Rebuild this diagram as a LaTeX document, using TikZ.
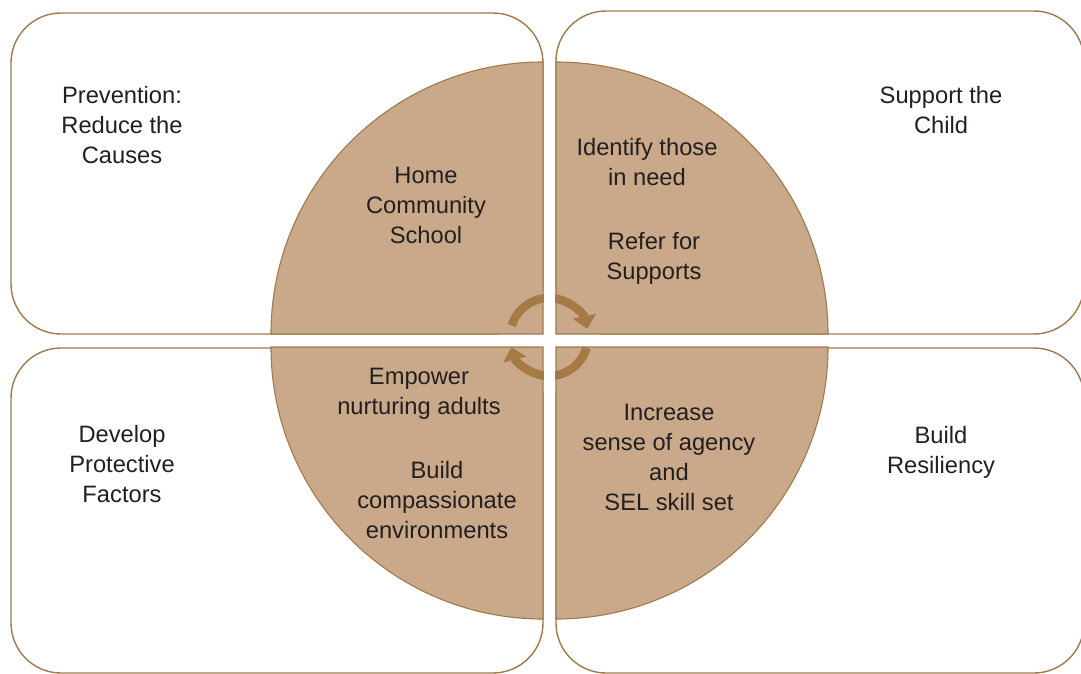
\documentclass[tikz,border=0pt]{standalone}
\usepackage{fontspec}
\setmainfont{Liberation Sans}
\usetikzlibrary{arrows.meta}
\definecolor{quadfill}{HTML}{C9A98A}
\definecolor{edgebrown}{HTML}{A07A4C}
\definecolor{arrbrown}{HTML}{A67A45}
\definecolor{ink}{HTML}{231F20}
\begin{document}
\begin{tikzpicture}[x=1pt,y=-1pt,
  regionbox/.style={draw=edgebrown,line width=1.4pt,fill=white,rounded corners=50pt},
  quad/.style={fill=quadfill},
  quadedge/.style={draw=edgebrown,line width=1.1pt},
  cyclearrow/.style={draw=arrbrown,line width=8.5pt,-{Triangle[length=13pt,width=23pt]}},
  lbl/.style={align=center,inner sep=0pt,text=ink,font=\fontsize{23.7}{30}\selectfont}]
\path[use as bounding box] (0,0) rectangle (1081,674);
\clip (0,0) rectangle (1081,674);
% four rounded regions
\draw[regionbox] (11,13) rectangle (543,334);
\draw[regionbox] (556,11) rectangle (1084,334);
\draw[regionbox] (11,348) rectangle (543,673);
\draw[regionbox] (556,348) rectangle (1084,673);
% quadrants
\fill[quad] (543,334) -- (271,334) arc[start angle=180,end angle=270,radius=272] -- cycle;
\fill[quad] (556,334) -- (556,62) arc[start angle=270,end angle=360,radius=272] -- cycle;
\fill[quad] (556,347) -- (828,347) arc[start angle=0,end angle=90,radius=272] -- cycle;
\fill[quad] (543,347) -- (543,619) arc[start angle=90,end angle=180,radius=272] -- cycle;
% cycle arrows
\coordinate (cc) at (549,337);
\draw[cyclearrow] ([shift={(197:39)}]cc) arc[start angle=197,end angle=348,radius=39];
\draw[cyclearrow] ([shift={(16:39)}]cc) arc[start angle=16,end angle=165,radius=39];
% white gaps
\fill[white] (543.6,285) rectangle (555.4,395);
\fill[white] (495,334.6) rectangle (605,346.4);
% quadrant outlines
\draw[quadedge] (543,334) -- (271,334) arc[start angle=180,end angle=270,radius=272] -- cycle;
\draw[quadedge] (556,334) -- (556,62) arc[start angle=270,end angle=360,radius=272] -- cycle;
\draw[quadedge] (556,347) -- (828,347) arc[start angle=0,end angle=90,radius=272] -- cycle;
\draw[quadedge] (543,347) -- (543,619) arc[start angle=90,end angle=180,radius=272] -- cycle;
% labels
\node[lbl] (prev) at (122,125) {Prevention:\\Reduce the\\Causes};
\node[lbl] (supp) at (941,110) {Support the\\Child};
\node[lbl] (dev) at (122,464) {Develop\\Protective\\Factors};
\node[lbl] (res) at (941,452) {Build\\Resiliency};
\node[lbl] (home) at (426,205) {Home\\Community\\School};
\node[lbl] (ident) at (647,162) {Identify those\\in need};
\node[lbl] (refer) at (654,258) {Refer for\\Supports};
\node[lbl] (emp) at (419,394) {Empower\\nurturing adults};
\node[lbl] (build) at (437,500) {Build\\compassionate\\environments};
\node[lbl] (inc) at (669,457) {Increase\\sense of agency\\and\\SEL skill set};
\end{tikzpicture}
\end{document}
